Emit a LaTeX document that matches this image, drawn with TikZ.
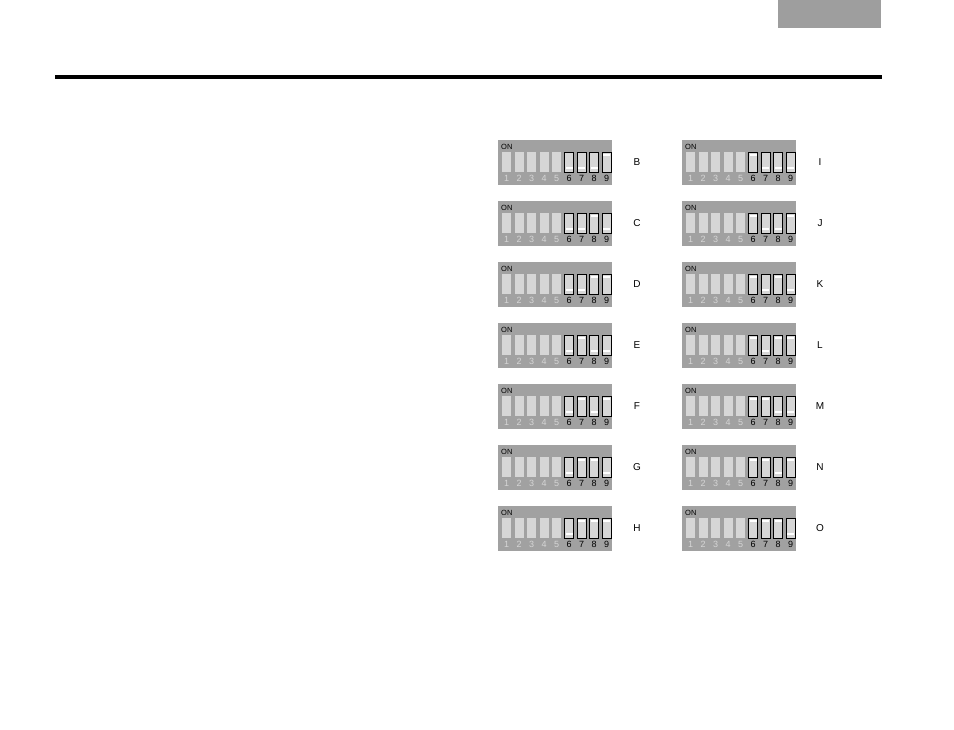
\documentclass[tikz,border=0pt]{standalone}
\usepackage{fontspec}
\setmainfont{Liberation Sans}
\usetikzlibrary{positioning}
\definecolor{boxgray}{gray}{0.63}
\definecolor{slotgray}{gray}{0.84}
\definecolor{tabgray}{gray}{0.62}

\tikzset{
  dipnum/.style={font=\fontsize{9}{9}\selectfont, inner sep=0pt},
  letter/.style={font=\fontsize{10}{10}\selectfont, inner sep=0pt},
}

% \dip{x}{y}{bit6}{bit7}{bit8}{bit9}, bit=1 means switch up
\newcommand{\dip}[6]{%
  \fill[boxgray] (#1,#2) rectangle ++(114,45);
  \node[dipnum, anchor=west, font=\fontsize{7.5}{7.5}\selectfont] at (#1+3,#2+6.5) {ON};
  \foreach \i in {1,...,5}{
    \fill[slotgray] (#1+4+12.5*\i-12.5,#2+12) rectangle ++(9,20);
    \node[dipnum, text=slotgray] at (#1+8.5+12.5*\i-12.5,#2+38.5) {\i};
  }
  \foreach \i/\b in {6/#3,7/#4,8/#5,9/#6}{
    \draw[black, fill=slotgray, line width=0.9pt] (#1+4+12.5*\i-12.5,#2+12) rectangle ++(9,20);
    \ifnum\b=1
      \fill[white] (#1+5+12.5*\i-12.5,#2+14) rectangle ++(7,2.2);
    \else
      \fill[white] (#1+5+12.5*\i-12.5,#2+27) rectangle ++(7,2.2);
    \fi
    \node[dipnum] at (#1+8.5+12.5*\i-12.5,#2+38.5) {\i};
  }
}

\begin{document}
\begin{tikzpicture}[x=1pt,y=-1pt]
\useasboundingbox (0,0) rectangle (954,730);
\fill[tabgray] (778,0) rectangle (881,28);
\draw[line width=4.5pt] (55,77) -- (882,77);

\foreach \n/\lab [count=\k from 1] in {0/B,1/C,2/D,3/E,4/F,5/G,6/H}{
  \pgfmathtruncatemacro{\bb}{mod(floor(\k/4),2)}
  \pgfmathtruncatemacro{\bc}{mod(floor(\k/2),2)}
  \pgfmathtruncatemacro{\bd}{mod(\k,2)}
  \dip{498}{140+61*\n}{0}{\bb}{\bc}{\bd}
  \node[letter] (l\lab) at (637,162+61*\n) {\lab};
}
\foreach \n/\lab [count=\k from 8] in {0/I,1/J,2/K,3/L,4/M,5/N,6/O}{
  \pgfmathtruncatemacro{\bb}{mod(floor(\k/4),2)}
  \pgfmathtruncatemacro{\bc}{mod(floor(\k/2),2)}
  \pgfmathtruncatemacro{\bd}{mod(\k,2)}
  \dip{682}{140+61*\n}{1}{\bb}{\bc}{\bd}
  \node[letter] (l\lab) at (820,162+61*\n) {\lab};
}
\end{tikzpicture}
\end{document}
